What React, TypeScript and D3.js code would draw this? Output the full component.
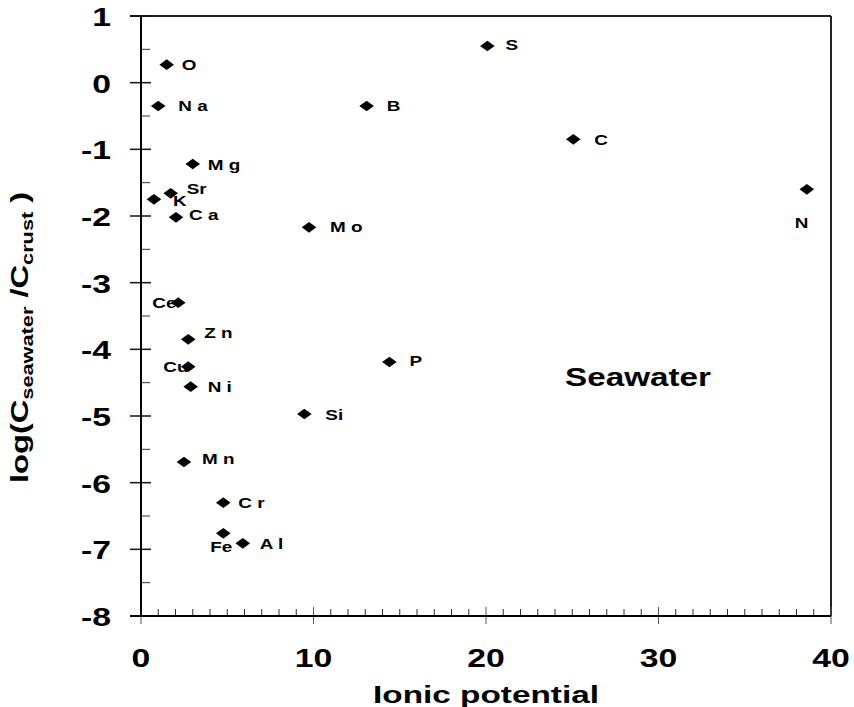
import React, { useEffect, useRef } from 'react';
import * as d3 from 'd3';

// values
const elements = ['O', 'Na', 'Mg', 'Sr', 'K', 'Ca', 'Mo', 'Ce', 'Zn', 'Cu', 'Ni', 'Si', 'Mn', 'Cr', 'Fe', 'Al', 'P', 'B', 'S', 'C', 'N'];
const labelText = ['O', 'N a', 'M g', 'Sr', 'K', 'C a', 'M o', 'Ce', 'Z n', 'Cu', 'N i', 'Si', 'M n', 'C r', 'Fe', 'A l', 'P', 'B', 'S', 'C', 'N'];
const ionicPotential = [1.49, 1.0, 3.0, 1.72, 0.75, 2.03, 9.74, 2.16, 2.74, 2.74, 2.88, 9.47, 2.49, 4.77, 4.77, 5.9, 14.4, 13.08, 20.08, 25.06, 38.6];
const logRatio = [0.27, -0.35, -1.22, -1.66, -1.75, -2.02, -2.17, -3.3, -3.85, -4.26, -4.56, -4.97, -5.69, -6.3, -6.76, -6.91, -4.19, -0.35, 0.55, -0.85, -1.6];

// label placement relative to each marker (px)
const labelDx = [15, 20, 15, 16, 19, 13, 21, -26, 16, -25, 17, 21, 18, 15, -13, 17, 20, 20, 18, 21, -12];
const labelDy = [5, 5, 6, 1, 7, 3, 5, 5, -1, 5, 5, 6, 2, 5, 19, 6, 4, 5, 4, 6, 39];

const xTicks = [0, 10, 20, 30, 40];
const yTicks = [1, 0, -1, -2, -3, -4, -5, -6, -7, -8];

const W = 854;
const H = 707;
const SX = 1.35; // the reference text is drawn wide

const App = () => {
  const svgRef = useRef<SVGSVGElement>(null);

  useEffect(() => {
    const margin = { top: 16, right: 23, bottom: 91, left: 141 };
    const width = W - margin.left - margin.right;
    const height = H - margin.top - margin.bottom;

    const root = d3.select(svgRef.current);
    root.selectAll('*').remove();

    const svg = root.append('g')
      .attr('transform', `translate(${margin.left},${margin.top})`)
      .style('font-family', 'Arial, "Liberation Sans", sans-serif')
      .style('font-weight', 'bold');

    const x = d3.scaleLinear().domain([0, 40]).range([0, width]);
    const y = d3.scaleLinear().domain([-8, 1]).range([height, 0]);

    // frame (top + right)
    svg.append('line')
      .attr('x1', -11).attr('x2', width).attr('y1', 0).attr('y2', 0)
      .attr('stroke', '#222').attr('stroke-width', 2);
    svg.append('line')
      .attr('x1', width).attr('x2', width).attr('y1', 0).attr('y2', height)
      .attr('stroke', '#222').attr('stroke-width', 2);

    // minor ticks
    const xMinor = d3.range(1, 40).filter(v => v % 10 !== 0);
    svg.selectAll('.xminor')
      .data(xMinor)
      .enter()
      .append('line')
      .attr('x1', d => x(d)).attr('x2', d => x(d))
      .attr('y1', height).attr('y2', height - 7)
      .attr('stroke', '#333').attr('stroke-width', 1);

    const yMinor = d3.range(-7.5, 1, 1);
    svg.selectAll('.yminor')
      .data(yMinor)
      .enter()
      .append('line')
      .attr('x1', 0).attr('x2', 9)
      .attr('y1', d => y(d)).attr('y2', d => y(d))
      .attr('stroke', '#333').attr('stroke-width', 1);

    // major ticks
    svg.selectAll('.xmajor')
      .data(xTicks)
      .enter()
      .append('line')
      .attr('x1', d => x(d)).attr('x2', d => x(d))
      .attr('y1', height - 9).attr('y2', height + 8)
      .attr('stroke', '#555').attr('stroke-width', 1);

    svg.selectAll('.ymajor')
      .data(yTicks)
      .enter()
      .append('line')
      .attr('x1', -11).attr('x2', 10)
      .attr('y1', d => y(d)).attr('y2', d => y(d))
      .attr('stroke', '#111').attr('stroke-width', 1.5);

    // axis lines
    svg.append('line')
      .attr('x1', -11).attr('x2', width).attr('y1', height).attr('y2', height)
      .attr('stroke', 'black').attr('stroke-width', 2);
    svg.append('line')
      .attr('x1', 0).attr('x2', 0).attr('y1', 0).attr('y2', height)
      .attr('stroke', 'black').attr('stroke-width', 2);

    // tick labels
    svg.selectAll('.xlabel')
      .data(xTicks)
      .enter()
      .append('text')
      .attr('transform', d => `translate(${x(d)},${height + 51}) scale(${SX},1)`)
      .attr('text-anchor', 'middle')
      .attr('font-size', 25)
      .attr('fill', 'black')
      .text(d => String(d));

    svg.selectAll('.ylabel')
      .data(yTicks)
      .enter()
      .append('text')
      .attr('transform', d => `translate(-30,${y(d) + 10}) scale(${SX},1)`)
      .attr('text-anchor', 'end')
      .attr('font-size', 25)
      .attr('fill', 'black')
      .text(d => (d < 0 ? '-' + Math.abs(d) : String(d)));

    // axis titles
    svg.append('text')
      .attr('transform', `translate(${(372 + 600) / 2 - margin.left},${H - margin.top - 4}) scale(1.45,1)`)
      .attr('text-anchor', 'middle')
      .attr('font-size', 23)
      .attr('fill', 'black')
      .text('Ionic potential');

    const yTitle = svg.append('text')
      .attr('transform', `translate(${28 - margin.left},${483 - margin.top}) rotate(-90) scale(1.36,1)`)
      .attr('font-size', 24)
      .attr('fill', 'black');
    yTitle.append('tspan').text('log(C');
    yTitle.append('tspan').attr('font-size', 16).attr('dy', 5).text('seawater');
    yTitle.append('tspan').attr('dy', -5).text(' /C');
    yTitle.append('tspan').attr('font-size', 16).attr('dy', 5).text('crust');
    yTitle.append('tspan').attr('dy', -5).text(' )');

    // points
    const pts = elements.map((e, i) => ({
      el: e,
      label: labelText[i],
      xv: ionicPotential[i],
      yv: logRatio[i],
      dx: labelDx[i],
      dy: labelDy[i]
    }));

    const diamond = 'M-7.3,0L0,-5.3L7.3,0L0,5.3Z';

    // labels first so markers sit on top (Ce, Cu are partly hidden in the reference)
    svg.selectAll('.plabel')
      .data(pts)
      .enter()
      .append('text')
      .attr('transform', d => `translate(${x(d.xv) + d.dx},${y(d.yv) + d.dy}) scale(${SX},1)`)
      .attr('font-size', 14)
      .attr('fill', 'black')
      .attr('xml:space', 'preserve')
      .style('white-space', 'pre')
      .text(d => d.label);

    svg.selectAll('.pt')
      .data(pts)
      .enter()
      .append('path')
      .attr('d', diamond)
      .attr('transform', d => `translate(${x(d.xv)},${y(d.yv)})`)
      .attr('fill', 'black');

    svg.append('text')
      .attr('transform', `translate(${565 - margin.left},${386 - margin.top}) scale(1.33,1)`)
      .attr('font-size', 25)
      .attr('fill', 'black')
      .text('Seawater');
  }, []);

  return (
    <svg
      ref={svgRef}
      width={W}
      height={H}
      style={{ position: 'absolute', left: 0, top: 0, background: 'white' }}
    ></svg>
  );
};

export default App;
